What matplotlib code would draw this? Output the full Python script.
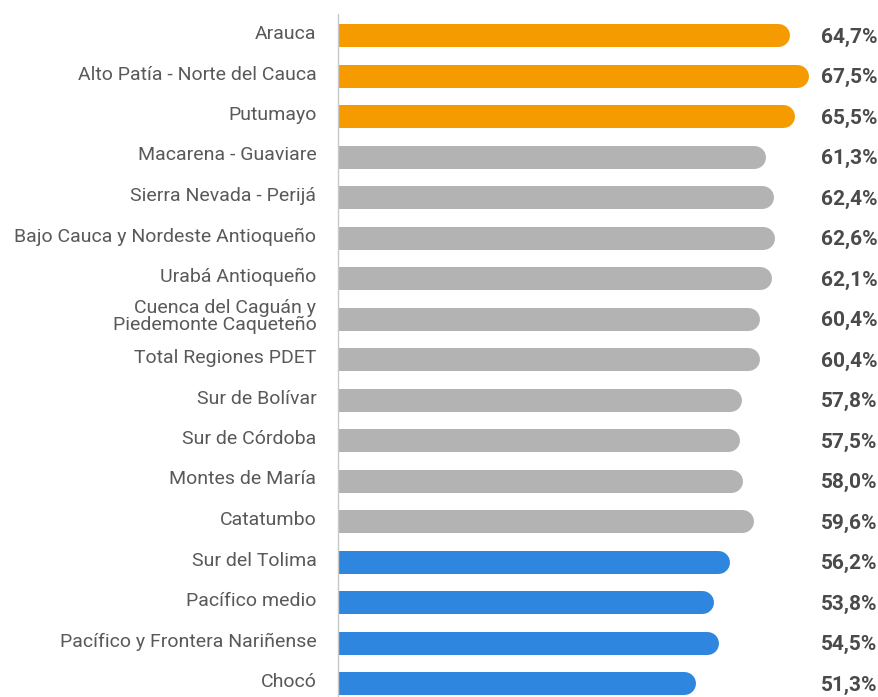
import matplotlib.pyplot as plt
from matplotlib.transforms import ScaledTranslation

plt.rcParams['font.family'] = ['Roboto', 'DejaVu Sans']

regiones = ['Arauca', 'Alto Patía - Norte del Cauca', 'Putumayo',
            'Macarena - Guaviare', 'Sierra Nevada - Perijá',
            'Bajo Cauca y Nordeste Antioqueño', 'Urabá Antioqueño',
            'Cuenca del Caguán y\nPiedemonte Caqueteño', 'Total Regiones PDET',
            'Sur de Bolívar', 'Sur de Córdoba', 'Montes de María', 'Catatumbo',
            'Sur del Tolima', 'Pacífico medio', 'Pacífico y Frontera Nariñense',
            'Chocó']
valores = [64.7, 67.5, 65.5, 61.3, 62.4, 62.6, 62.1, 60.4, 60.4,
           57.8, 57.5, 58.0, 59.6, 56.2, 53.8, 54.5, 51.3]
grupo = ['alto'] * 3 + ['medio'] * 10 + ['bajo'] * 4

colores = {'alto': '#F59B00', 'medio': '#B3B3B3', 'bajo': '#2E86DE'}

W, H, DPI = 879, 697, 100
fig = plt.figure(figsize=(W / DPI, H / DPI), dpi=DPI)
ax = fig.add_axes([338 / W, 0, 541 / W, 1])

px_x = 6.975          # pixels per unit
paso = 40.5           # pixels per row
xmax = 541 / px_x
ax.set_xlim(0, xmax)
ax.set_ylim((H - 35) / paso, -35 / paso)

alto_px = 23
lw = alto_px * 72 / DPI
radio = (alto_px / 2) / px_x

for i, (v, g) in enumerate(zip(valores, grupo)):
    ax.plot([-5, v - radio], [i, i], color=colores[g], lw=lw,
            solid_capstyle='round', zorder=2)
    ax.text(xmax - 0.2, i + 0.06, f'{v:.1f}%'.replace('.', ','),
            ha='right', va='center', fontsize=15, fontweight='bold',
            color='#4A4A4A')

ax.set_yticks(range(len(regiones)))
ax.set_yticklabels(regiones, fontsize=14, color='#595959', linespacing=0.92)
ax.tick_params(axis='y', length=0, pad=15.5)
ax.set_xticks([])

# labels sit a little above the bar centre
subir = ScaledTranslation(0, 3 / DPI, fig.dpi_scale_trans)
for lab in ax.get_yticklabels():
    lab.set_transform(lab.get_transform() + subir)

for s in ['top', 'right', 'bottom']:
    ax.spines[s].set_visible(False)
ax.spines['left'].set_color('#C8C8C8')
ax.spines['left'].set_linewidth(1)
ax.spines['left'].set_bounds(-21 / paso, (H - 35) / paso)
ax.spines['left'].set_zorder(3)

fig.savefig('out.png', dpi=DPI)
